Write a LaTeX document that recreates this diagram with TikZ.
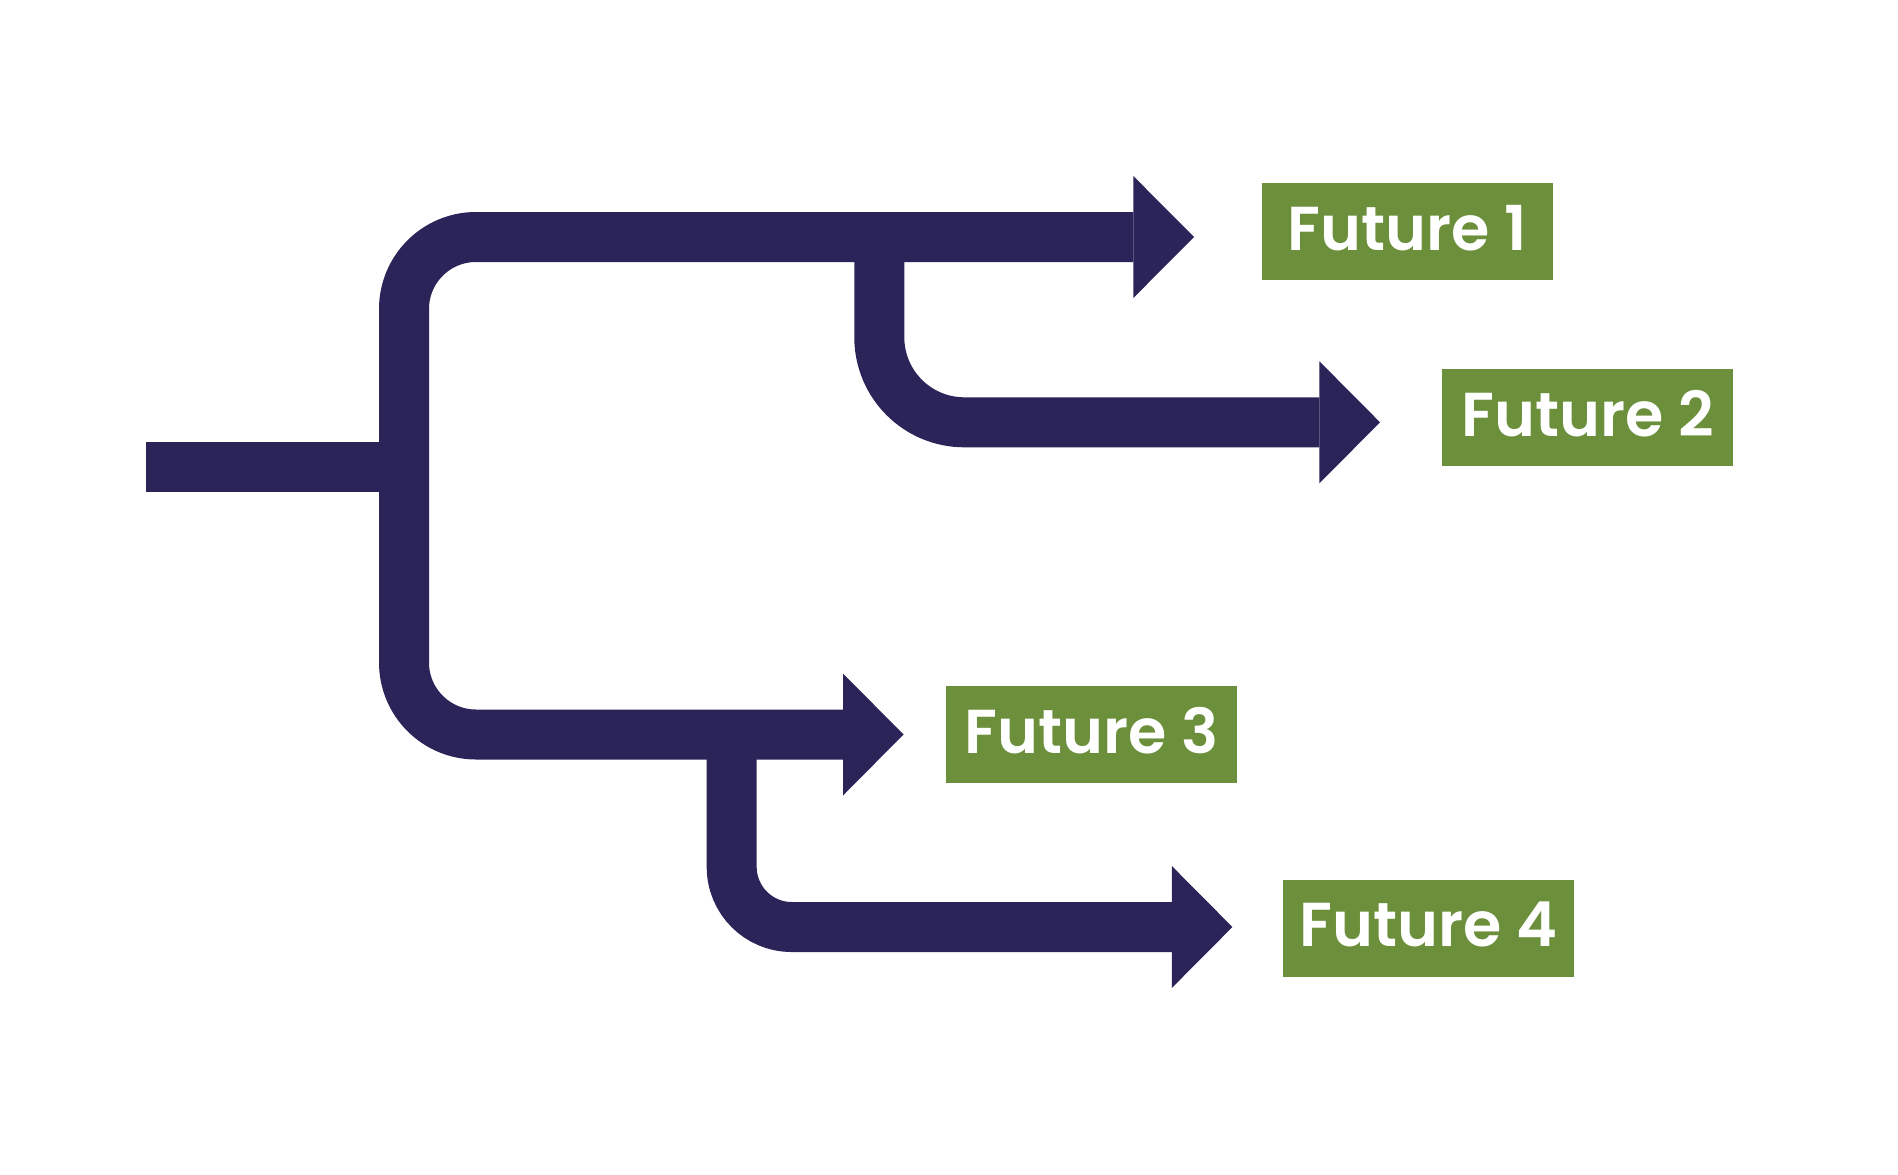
\documentclass[tikz,border=0pt]{standalone}
\usepackage{fontspec}
\setmainfont{Poppins}
\newfontfamily\labelfont{Poppins SemiBold}
\definecolor{navy}{RGB}{43,36,89}
\definecolor{leaf}{RGB}{107,143,59}
\begin{document}
\begin{tikzpicture}[x=1pt,y=-1pt,
  flow/.style={draw=navy,line width=50pt},
  head/.style={fill=navy},
  box/.style={fill=leaf,minimum width=291pt,minimum height=97pt,inner sep=0pt,
    text=white,font=\labelfont\fontsize{62}{62}\selectfont,text depth=7pt}]
\useasboundingbox[fill=white] (0,0) rectangle (1898,1175);
% coordinates
\coordinate (start) at (146,466.5);
\coordinate (jn) at (429,466.5);
\coordinate (b1) at (1133.3,237);
\coordinate (t1) at (1194,237);
\coordinate (c1) at (404,237);
\coordinate (c3) at (404,734.5);
\coordinate (b3) at (843,734.5);
\coordinate (t3) at (903.5,734.5);
\coordinate (s2) at (879.3,237);
\coordinate (c2) at (879.3,422.3);
\coordinate (b2) at (1319.4,422.3);
\coordinate (t2) at (1380,422.3);
\coordinate (s4) at (731.7,734.5);
\coordinate (c4) at (731.7,927);
\coordinate (b4) at (1171.8,927);
\coordinate (t4) at (1232.4,927);
% boxes
\node[box] (f1) at (1407.5,231.5) {Future 1};
\node[box] (f2) at (1587.5,417) {Future 2};
\node[box] (f3) at (1091.2,734.2) {Future 3};
\node[box] (f4) at (1428.3,928) {Future 4};
% flows
\draw[flow] (start) -- (jn);
\draw[flow,rounded corners=72pt] (b1) -- (c1) -- (c3) -- (b3);
\draw[flow,rounded corners=85pt] (s2) -- (c2) -- (b2);
\draw[flow,rounded corners=60pt] (s4) -- (c4) -- (b4);
% heads
\fill[head] ([yshift=-61pt]b1) -- (t1) -- ([yshift=61pt]b1) -- cycle;
\fill[head] ([yshift=-61pt]b2) -- (t2) -- ([yshift=61pt]b2) -- cycle;
\fill[head] ([yshift=-61pt]b3) -- (t3) -- ([yshift=61pt]b3) -- cycle;
\fill[head] ([yshift=-61pt]b4) -- (t4) -- ([yshift=61pt]b4) -- cycle;
\end{tikzpicture}
\end{document}
